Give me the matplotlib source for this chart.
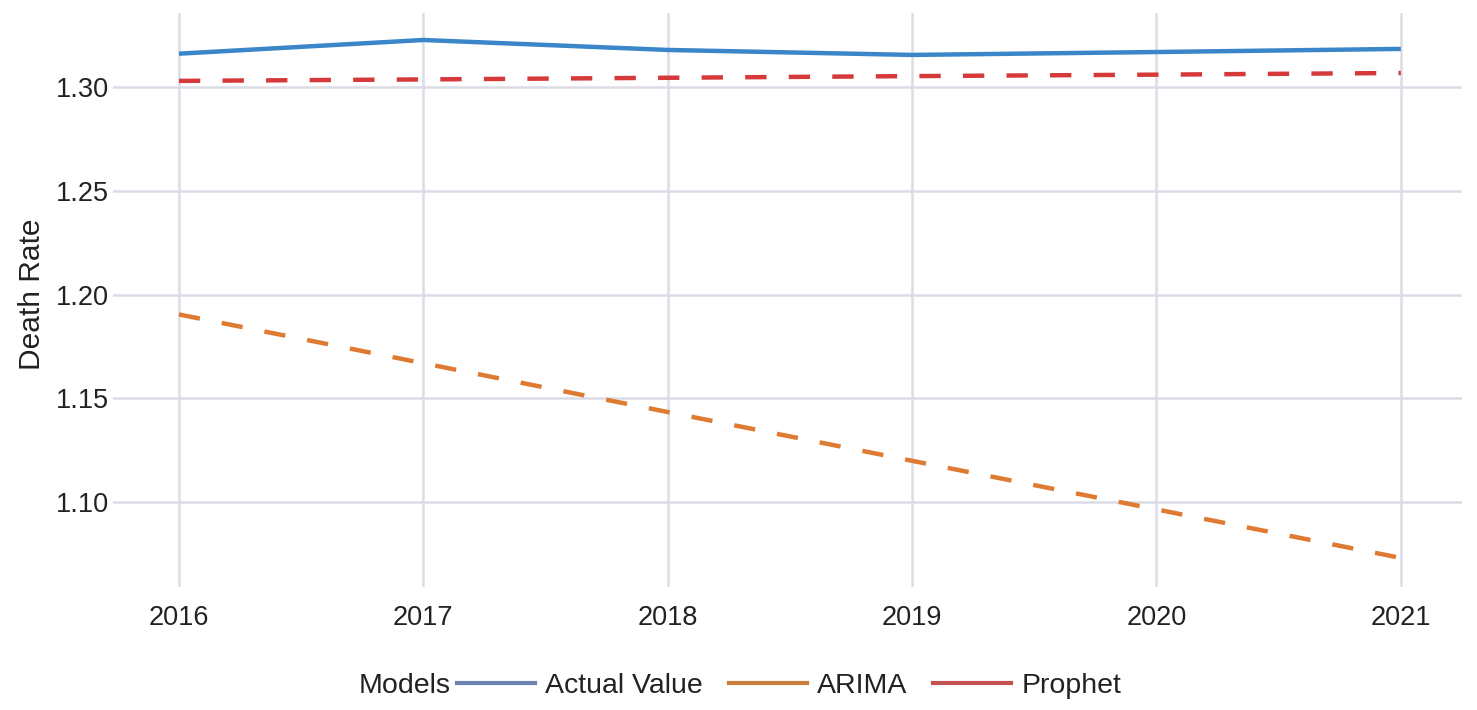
import matplotlib
matplotlib.use("Agg")
import matplotlib.pyplot as plt
from matplotlib.lines import Line2D

plt.rcParams["font.family"] = ["Liberation Sans", "DejaVu Sans"]

years = [2016, 2017, 2018, 2019, 2020, 2021]
actual = [1.3160, 1.3226, 1.3178, 1.3154, 1.3168, 1.3183]
arima = [1.1904, 1.1669, 1.1434, 1.1199, 1.0965, 1.0731]
prophet = [1.3029, 1.3036, 1.3044, 1.3052, 1.3059, 1.3067]
y_ticks = [1.10, 1.15, 1.20, 1.25, 1.30]

fig = plt.figure(figsize=(14.77, 7.10), dpi=100)
ax = fig.add_axes([0.0765, 0.1732, 0.9133, 0.8085])

ax.plot(years, actual, color="#3a86c8", lw=3.2, solid_capstyle="butt", zorder=3)
l_ar, = ax.plot(years, arima, color="#de7a31", lw=3.2, zorder=3)
l_ar.set_dashes((4.8, 5.0))
l_pr, = ax.plot(years, prophet, color="#d6393a", lw=3.2, zorder=3)
l_pr.set_dashes((4.8, 5.0))

ax.set_xlim(2015.73, 2021.25)
ax.set_ylim(1.0591, 1.3356)
ax.set_xticks(years)
ax.set_yticks(y_ticks)
ax.set_yticklabels([f"{v:.2f}" for v in y_ticks])
ax.grid(True, color="#dcdce6", lw=1.8)
ax.set_axisbelow(True)
for s in ax.spines.values():
    s.set_visible(False)
ax.tick_params(axis="both", length=0, labelsize=19.5, labelcolor="#222222")
ax.tick_params(axis="x", pad=13)
ax.tick_params(axis="y", pad=3)

ax.set_ylabel("Death Rate", fontsize=21.5, color="#222222")
ax.yaxis.set_label_coords(-0.050, 0.51)

handles = [
    Line2D([0], [0], color="#6d82ad", lw=3),
    Line2D([0], [0], color="#c97d3f", lw=3),
    Line2D([0], [0], color="#c2524f", lw=3),
]
labels = ["Actual Value", "ARIMA", "Prophet"]
fig.text(359 / 1477, 1 - 686 / 710, "Models", fontsize=20.5, color="#222222",
         ha="left", va="center")
fig.legend(handles, labels, loc="center left", bbox_to_anchor=(457 / 1477, 1 - 686 / 710),
           ncol=3, frameon=False, fontsize=20.5, handlelength=2.75, handletextpad=0.35,
           columnspacing=0.9, borderpad=0, borderaxespad=0, labelcolor="#222222")

fig.savefig("out.png", dpi=100)
